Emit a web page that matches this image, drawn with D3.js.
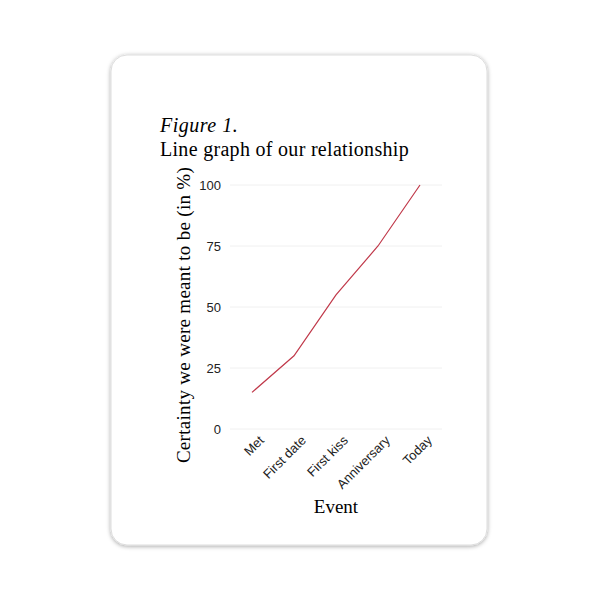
<!DOCTYPE html>
<html><head><meta charset="utf-8">
<script src="https://cdn.jsdelivr.net/npm/d3@7"></script>
<style>body{margin:0;background:#fff}</style></head>
<body><div id="chart"></div>
<script>
var events = ["Met", "First date", "First kiss", "Anniversary", "Today"];
var certainty = [15, 30, 55, 75, 100];
var yTicks = [0, 25, 50, 75, 100];

var svg = d3.select("#chart").append("svg").attr("width", 600).attr("height", 600);

var defs = svg.append("defs");
var f = defs.append("filter").attr("id", "sh").attr("x", "-10%").attr("y", "-10%").attr("width", "120%").attr("height", "120%");
f.append("feDropShadow").attr("dx", 0).attr("dy", 1).attr("stdDeviation", 2).attr("flood-color", "#000").attr("flood-opacity", 0.35);

svg.append("rect").attr("x", 111).attr("y", 55).attr("width", 376).attr("height", 490)
  .attr("rx", 16).attr("fill", "#fff").attr("stroke", "#ddd").attr("filter", "url(#sh)");

svg.append("text").attr("x", 160).attr("y", 132).attr("font-family", "Liberation Serif")
  .attr("font-style", "italic").attr("font-size", 20).attr("letter-spacing", 0.5).text("Figure 1.");
svg.append("text").attr("x", 160).attr("y", 156).attr("font-family", "Liberation Serif")
  .attr("font-size", 20).attr("letter-spacing", 0.3).text("Line graph of our relationship");

var x = d3.scalePoint().domain(events).range([252, 420]);
var y = d3.scaleLinear().domain([0, 100]).range([429, 185]);

var g = svg.append("g");
g.selectAll(".grid").data(yTicks).enter().append("line")
  .attr("x1", 230).attr("x2", 442).attr("y1", d => y(d)).attr("y2", d => y(d))
  .attr("stroke", "#ececec").attr("stroke-width", 0.8);

var leftAxis = d3.axisLeft(y).tickValues(yTicks).tickSize(0).tickPadding(0);
var ya = g.append("g").attr("transform", "translate(221,0)").call(leftAxis);
ya.select(".domain").remove();
ya.selectAll("text").attr("font-family", "Liberation Sans").attr("font-size", 13).attr("fill", "#222");

var bottomAxis = d3.axisBottom(x).tickSize(0);
var xa = g.append("g").attr("transform", "translate(0,440)").call(bottomAxis);
xa.select(".domain").remove();
xa.selectAll("text").attr("font-family", "Liberation Sans").attr("font-size", 13).attr("fill", "#222")
  .attr("text-anchor", "end").attr("dy", "0.5em").attr("dx", "0.6em")
  .attr("transform", "rotate(-45)");

g.append("path").datum(certainty)
  .attr("d", d3.line().x((d, i) => x(events[i])).y(d => y(d)))
  .attr("fill", "none").attr("stroke", "#c0394a").attr("stroke-width", 1.2);

svg.append("text").attr("x", 336).attr("y", 513).attr("text-anchor", "middle")
  .attr("font-family", "Liberation Serif").attr("font-size", 19).text("Event");
svg.append("text").attr("transform", "translate(190,315) rotate(-90)").attr("text-anchor", "middle")
  .attr("font-family", "Liberation Serif").attr("font-size", 19).attr("letter-spacing", 0.3).text("Certainty we were meant to be (in %)");
</script></body></html>
